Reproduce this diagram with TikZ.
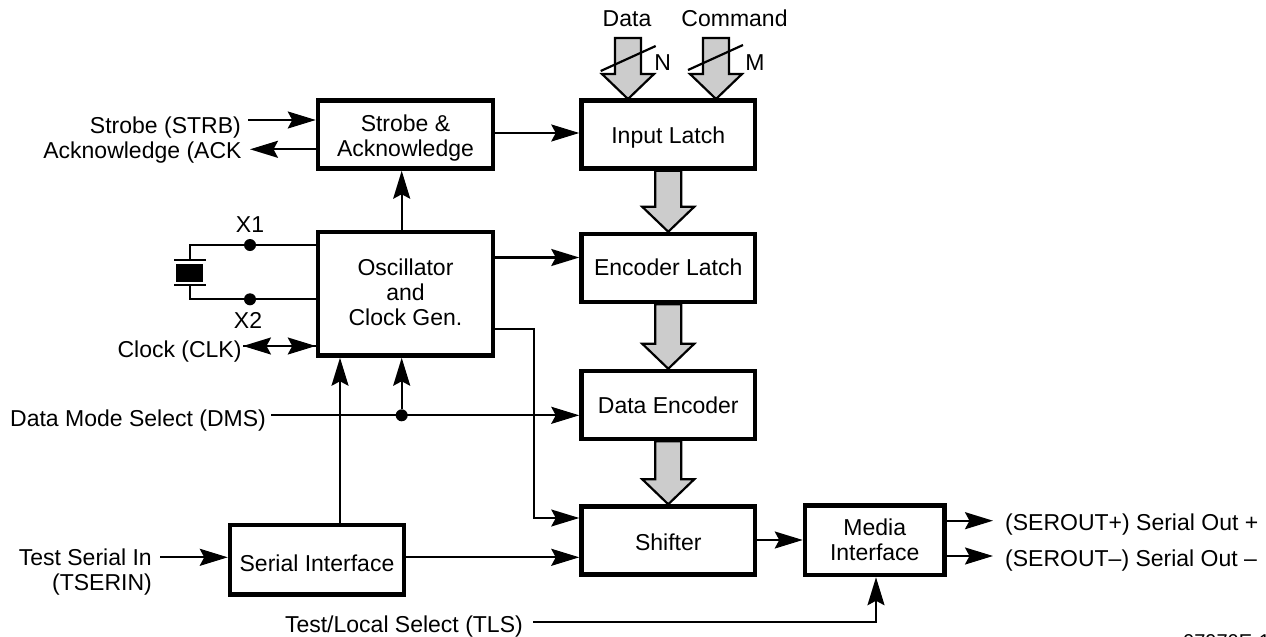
\documentclass[tikz,border=0pt]{standalone}
\usepackage{fontspec}
\setmainfont{Liberation Sans}
\usetikzlibrary{positioning, calc, arrows.meta}
\tikzset{
  block/.style={draw, line width=4.5pt, minimum height=68pt, align=center, inner sep=0pt, font=\fontsize{23}{25}\selectfont},
  row/.style={text height=#1, text depth=0pt},
  row/.default=16.5pt,
  lab/.style={inner sep=0pt, font=\fontsize{23}{25}\selectfont},
  sig/.style={line width=2.2pt, -{Stealth[length=28pt,width=17pt,inset=4.5pt]}},
  wire/.style={line width=2.2pt},
  bus/.style={draw, line width=2.2pt, fill=black!20, line join=miter},
  dot/.style={circle, fill=black, inner sep=0pt, minimum size=12pt}
}
\newcommand{\busarrow}[2]{% shaft start, arrow tip
  \draw[bus] ([xshift=-13pt]#1) -- ([xshift=13pt]#1) -- ([xshift=13pt,yshift=25pt]#2) -- ([xshift=26pt,yshift=25pt]#2) -- (#2) -- ([xshift=-26pt,yshift=25pt]#2) -- ([xshift=-13pt,yshift=25pt]#2) -- cycle;
}
\begin{document}
\begin{tikzpicture}[x=1pt,y=-1pt]
  \useasboundingbox (0,0) rectangle (1266,637);

  \node[block, minimum width=175pt] (strobe) at (405.5,134.5) {\rule{0pt}{24pt}Strobe \&\\Acknowledge};
  \node[block, row=17.6pt, minimum width=173.5pt] (input) at (668.25,134.5) {Input Latch};
  \node[block, minimum width=175pt, minimum height=123.5pt] (osc) at (405.5,293.75) {Oscillator\\and\\Clock Gen.\rule[-2.4pt]{0pt}{2.4pt}};
  \node[block, row=15.4pt, minimum width=173.5pt] (encoder) at (668.25,268) {Encoder Latch};
  \node[block, row, minimum width=173.5pt] (dataenc) at (668.25,405) {Data Encoder};
  \node[block, row=19.4pt, minimum width=173.5pt] (shifter) at (668.25,540.5) {Shifter};
  \node[block, row=22.5pt, minimum width=174pt, minimum height=69.5pt] (serial) at (317,559.75) {Serial Interface};
  \node[block, minimum width=139.5pt, minimum height=69.5pt] (media) at (874.75,540.25) {Media\\Interface};

  \node[lab, anchor=base] (data) at (627,26.7) {Data};
  \node[lab, anchor=base] (command) at (734.5,26.7) {Command};
  \node[lab, anchor=base] (n) at (662.7,70) {N};
  \node[lab, anchor=base] (m) at (755,70) {M};
  \node[lab, anchor=base east] (strb) at (241,133.3) {Strobe (STRB)};
  \node[lab, anchor=base east] (ack) at (241.7,158) {Acknowledge (ACK};
  \node[lab, anchor=base] (x1) at (250,232.7) {X1};
  \node[lab, anchor=base] (x2) at (248,328.3) {X2};
  \node[lab, anchor=base east] (clk) at (241.7,357) {Clock (CLK)};
  \node[lab, anchor=base west] (dms) at (10,426) {Data Mode Select (DMS)};
  \node[lab, anchor=base east] (tsa) at (152,565.7) {Test Serial In};
  \node[lab, anchor=base east] (tsi) at (152,590.7) {(TSERIN)};
  \node[lab, anchor=base east] (tls) at (523,632) {Test/Local Select (TLS)};
  \node[lab, anchor=base west] (sop) at (1005,530) {(SEROUT+) Serial Out +};
  \node[lab, anchor=base west] (som) at (1005,566.7) {(SEROUT--) Serial Out --};
  \node[lab, anchor=base west, font=\fontsize{20}{24}\selectfont] (part) at (1183,648) {07970E-1};

  \coordinate (datain) at (628,38);
  \coordinate (datatip) at (628,99);
  \coordinate (cmdin) at (716,38);
  \coordinate (cmdtip) at (716,99);
  \busarrow{datain}{datatip}
  \busarrow{cmdin}{cmdtip}
  \busarrow{input.south}{encoder.north}
  \busarrow{encoder.south}{dataenc.north}
  \busarrow{dataenc.south}{shifter.north}

  \coordinate (dataslash1) at (600.7,71);
  \coordinate (dataslash2) at (655.7,46);
  \coordinate (cmdslash1) at (688,70);
  \coordinate (cmdslash2) at (743,45);
  \draw[wire] (dataslash1) -- (dataslash2);
  \draw[wire] (cmdslash1) -- (cmdslash2);

  \coordinate (strbout) at (248,120);
  \coordinate (ackin) at (250,149.3);
  \draw[sig] (strbout) -- (strobe.west |- strbout);
  \draw[sig] (strobe.west |- ackin) -- (ackin);
  \draw[sig] (osc.north -| 401.7,0) -- (strobe.south -| 401.7,0);
  \draw[sig] (strobe.east |- 0,133) -- (input.west |- 0,133);
  \draw[sig] (osc.east |- 0,257.5) -- (encoder.west |- 0,257.5);

  % crystal
  \node[dot] (xdot1) at (250,245) {};
  \node[dot] (xdot2) at (250,299.3) {};
  \coordinate (xtal1) at (190,260);
  \coordinate (xtal2) at (190,285);
  \draw[wire] (osc.west |- xdot1) -- (xdot1) -- (xtal1 |- xdot1) -- (xtal1);
  \draw[wire] (osc.west |- xdot2) -- (xdot2) -- (xtal2 |- xdot2) -- (xtal2);
  \draw[wire] (174,260) -- (205.7,260);
  \draw[wire] (174,285) -- (205.7,285);
  \fill (176,264) rectangle (203,281.7);

  \coordinate (clkend) at (243,346);
  \draw[sig] (clkend) -- (osc.west |- clkend);
  \draw[sig] (osc.west |- clkend) -- (clkend);

  \coordinate (dmsout) at (271,415.3);
  \node[dot] (dmsdot) at (401.7,415.3) {};
  \draw[sig] (dmsout) -- (dataenc.west |- dmsout);
  \draw[sig] (dmsdot) -- (osc.south -| dmsdot);
  \draw[sig] (serial.north -| 340,0) -- (osc.south -| 340,0);
  \draw[sig, line width=1.7pt] (osc.east |- 0,329) -- (534,329) -- (534,518) -- (shifter.west |- 0,518);
  \coordinate (tsout) at (160,557.3);
  \draw[sig] (tsout) -- (serial.west |- tsout);
  \draw[sig] (serial.east |- 0,557.3) -- (shifter.west |- 0,557.3);
  \draw[sig] (shifter.east |- 0,540) -- (media.west |- 0,540);
  \coordinate (outp) at (993,520.7);
  \coordinate (outm) at (993,556);
  \draw[sig] (media.east |- outp) -- (outp);
  \draw[sig] (media.east |- outm) -- (outm);
  \coordinate (tlsout) at (533,621.7);
  \draw[sig] (tlsout) -- (876,621.7) -- (media.south -| 876,0);
\end{tikzpicture}
\end{document}
